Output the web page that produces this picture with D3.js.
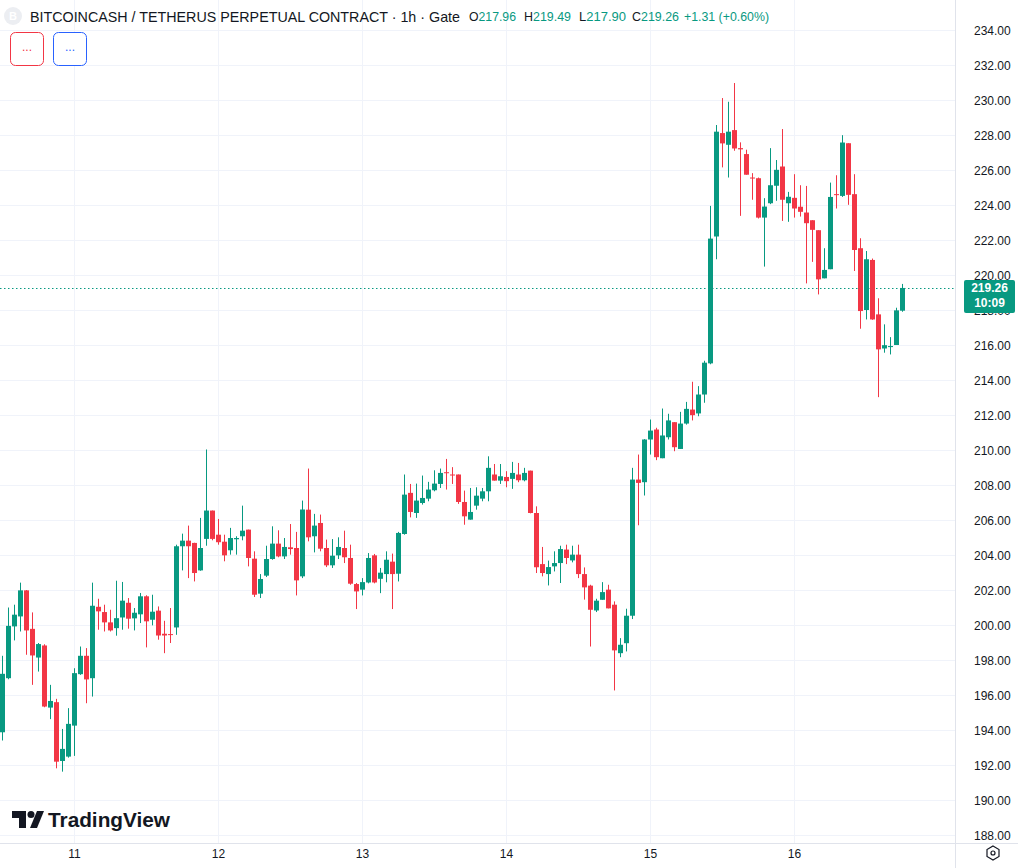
<!DOCTYPE html>
<html><head><meta charset="utf-8">
<script src="https://cdn.jsdelivr.net/npm/d3@7/dist/d3.min.js"></script>
<style>
body{margin:0;background:#fff;}
svg{display:block;font-family:"Liberation Sans",Arial,sans-serif;}
</style>
</head><body>
<svg id="chart" width="1018" height="868"></svg>
<script>
// ---- data (1h candles, first candle = day 10 12:00) ----
const firstCandle = Date.UTC(2024, 4, 10, 12);
const opens = [193.87,196.96,199.92,200.49,201.98,199.78,198.14,198.83,195.28,195.59,192.23,192.48,194.25,197.19,198.24,196.96,201.04,200.74,200.15,199.82,200.43,201.27,200.38,200.61,201.64,200.30,200.82,199.50,199.48,199.86,204.50,204.82,204.69,203.12,204.92,206.54,205.16,204.76,204.27,204.90,205.07,205.45,203.79,201.79,202.82,203.77,204.65,203.92,204.44,204.40,202.78,206.59,205.07,205.83,204.40,203.41,203.98,204.40,203.83,202.34,202.02,202.43,203.98,202.64,202.91,203.62,202.93,205.20,207.55,206.40,206.97,207.22,207.70,208.06,208.73,208.60,208.60,207.03,206.02,206.82,207.22,207.64,208.60,208.25,208.46,208.35,208.60,208.27,208.82,206.40,203.48,202.91,203.35,203.54,204.31,203.69,204.02,202.91,202.25,200.83,201.44,202.02,201.16,198.39,198.96,200.53,208.31,208.16,210.60,211.17,209.53,210.73,211.59,210.06,211.51,212.31,212.09,213.17,214.95,222.20,228.11,227.44,228.28,227.25,226.91,225.57,225.53,223.28,224.10,225.10,226.20,224.10,224.41,223.90,223.57,223.13,222.56,219.81,220.33,224.62,224.52,227.53,224.62,221.53,218.00,220.86,217.75,215.80,215.88,216.00,217.96];
const highs = [198.24,201.00,201.16,202.42,202.00,200.72,198.97,198.90,196.58,195.78,194.06,195.25,197.53,198.77,198.68,202.42,201.50,201.16,200.87,202.53,202.46,201.54,200.97,201.83,201.70,201.73,201.06,200.24,200.97,204.59,205.22,205.68,204.70,206.12,210.03,206.54,206.06,205.16,205.55,205.07,206.82,205.45,204.21,202.91,204.53,205.64,205.41,204.97,205.77,205.32,207.11,208.94,206.35,206.31,204.88,204.91,205.01,205.39,204.59,202.40,202.68,204.11,204.06,203.26,204.21,204.08,205.32,208.60,208.06,208.08,208.54,208.18,208.84,208.94,209.49,209.02,208.60,207.68,207.83,207.87,207.83,209.64,209.20,209.20,208.79,209.32,209.26,208.98,208.82,206.78,204.46,203.68,204.21,204.53,204.59,204.53,204.59,203.29,202.30,201.50,202.45,202.30,201.35,199.25,200.93,208.98,209.74,210.62,211.74,211.27,212.37,212.07,211.59,212.18,212.75,213.90,213.65,215.10,223.95,228.57,230.11,229.90,230.97,227.58,227.16,225.82,225.57,224.39,227.25,226.57,228.34,224.75,225.76,225.13,225.09,223.13,222.56,221.53,225.28,225.70,227.99,227.53,225.76,222.10,221.37,220.94,218.67,217.18,216.45,218.13,219.49];
const lows = [193.40,196.90,199.12,199.63,198.30,196.58,197.34,195.30,194.62,191.81,191.62,192.42,192.52,197.15,195.53,195.91,199.73,199.63,199.63,199.39,199.73,199.79,199.69,200.11,198.72,199.98,199.16,198.39,198.97,199.44,203.12,202.68,202.49,203.10,204.53,204.84,204.59,203.64,204.02,204.02,204.84,203.35,201.60,201.54,202.74,203.73,203.87,203.77,204.02,201.69,202.68,204.78,204.15,204.21,203.31,203.26,203.77,203.54,202.30,200.91,201.69,202.38,202.38,201.82,202.44,200.91,202.49,205.16,206.15,206.12,206.88,207.07,207.64,207.83,207.74,208.06,206.92,205.73,206.02,206.59,207.07,207.07,208.25,208.06,207.87,207.78,208.16,208.21,206.38,202.97,202.78,202.26,203.06,202.40,203.48,203.58,202.68,201.45,198.77,200.74,201.44,200.95,196.26,198.16,198.49,200.34,205.70,207.40,209.74,209.42,209.53,210.60,209.93,210.06,211.45,211.69,211.93,212.70,214.90,220.90,226.15,225.57,227.10,223.38,225.73,224.30,223.23,220.48,224.05,224.24,223.09,223.04,223.28,223.34,219.52,220.75,218.89,219.81,220.33,223.80,224.46,224.01,220.23,216.93,217.46,217.44,213.02,215.56,215.46,216.00,217.90];
const closes = [197.21,199.95,200.59,201.98,199.69,198.26,198.91,195.34,195.66,192.19,192.92,194.35,197.25,198.24,196.89,201.10,200.78,200.15,199.69,200.39,201.39,200.36,200.70,201.64,200.21,200.76,199.40,199.40,199.44,204.50,204.82,204.50,202.97,204.40,206.54,204.92,204.73,203.98,204.97,204.97,205.39,203.83,201.73,202.63,203.77,204.65,203.92,204.46,204.34,202.55,206.60,205.01,205.68,204.36,203.41,203.96,204.46,203.87,202.36,201.92,202.45,203.83,202.43,202.99,203.73,202.91,205.26,207.45,206.46,207.11,207.26,207.74,208.08,208.69,208.69,208.56,207.03,206.21,206.46,207.39,207.64,208.98,208.25,208.50,208.22,208.69,208.27,208.69,206.40,203.30,202.97,203.31,203.54,204.34,203.83,204.02,202.91,202.15,200.87,201.39,201.88,200.95,198.55,198.87,200.53,208.31,208.12,210.60,211.11,209.59,210.83,211.69,210.16,211.51,212.35,211.99,213.17,214.99,222.08,228.19,227.52,228.19,227.23,227.18,225.73,225.53,223.28,223.91,225.13,226.01,224.30,224.47,223.80,223.61,222.96,222.58,219.75,220.29,224.46,224.58,227.57,224.58,221.43,217.94,220.90,217.46,215.75,215.99,215.94,217.98,219.26];
const dayTicks = [11, 12, 13, 14, 15, 16];
const priceTicks = [188,190,192,194,196,198,200,202,204,206,208,210,212,214,216,218,220,222,224,226,228,230,232,234];
const lastPrice = 219.26;
const countdown = "10:09";
const titleText = "BITCOINCASH / TETHERUS PERPETUAL CONTRACT · 1h · Gate";
const ohlcLabels = ["O", "H", "L", "C"];
const ohlcValues = ["217.96", "219.49", "217.90", "219.26"];
const changeText = "+1.31 (+0.60%)";

// ---- layout ----
const W = 1018, H = 868, plotW = 955, plotH = 843;
const GREEN = "#089981", RED = "#f23645", GRID = "#f0f3fa", TEXT = "#131722";
const svg = d3.select("#chart");
const candles = opens.map((o, i) => ({t: new Date(firstCandle + i * 3600e3), o, h: highs[i], l: lows[i], c: closes[i]}));

const x = d3.scaleUtc()
  .domain([new Date(firstCandle), new Date(firstCandle + 150 * 3600e3)])
  .range([2, 902]);
const y = d3.scaleLinear().domain([188, 234]).range([835, 30]);

svg.append("rect").attr("width", W).attr("height", H).attr("fill", "#fff");

svg.append("defs").append("clipPath").attr("id", "plotclip")
  .append("rect").attr("width", plotW).attr("height", plotH);

const plot = svg.append("g").attr("clip-path", "url(#plotclip)");

// grid
plot.append("g").selectAll("line").data(priceTicks).join("line")
  .attr("x1", 0).attr("x2", plotW)
  .attr("y1", d => Math.round(y(d)) + 0.5).attr("y2", d => Math.round(y(d)) + 0.5)
  .attr("stroke", GRID).attr("stroke-width", 1);
const dayDates = dayTicks.map(d => new Date(Date.UTC(2024, 4, d)));
plot.append("g").selectAll("line").data(dayDates).join("line")
  .attr("x1", d => Math.round(x(d)) + 0.5).attr("x2", d => Math.round(x(d)) + 0.5)
  .attr("y1", 0).attr("y2", plotH)
  .attr("stroke", GRID).attr("stroke-width", 1);

// last price dotted line
plot.append("line")
  .attr("x1", 0).attr("x2", plotW)
  .attr("y1", Math.round(y(lastPrice)) + 0.5).attr("y2", Math.round(y(lastPrice)) + 0.5)
  .attr("stroke", GREEN).attr("stroke-width", 1).attr("stroke-dasharray", "1.5,2.5");

// candles
const cg = plot.append("g").selectAll("g").data(candles).join("g")
  .attr("fill", d => d.c >= d.o ? GREEN : RED)
  .attr("stroke", d => d.c >= d.o ? GREEN : RED);
cg.append("line")
  .attr("x1", d => Math.round(x(d.t)) + 0.5).attr("x2", d => Math.round(x(d.t)) + 0.5)
  .attr("y1", d => y(d.h)).attr("y2", d => y(d.l))
  .attr("stroke-width", 1);
cg.append("rect")
  .attr("x", d => Math.round(x(d.t)) - 2)
  .attr("width", 5)
  .attr("y", d => y(Math.max(d.o, d.c)))
  .attr("height", d => Math.max(1, Math.abs(y(d.o) - y(d.c))))
  .attr("stroke", "none");

// axis separators
svg.append("line").attr("x1", plotW + 0.5).attr("x2", plotW + 0.5).attr("y1", 0).attr("y2", H)
  .attr("stroke", "#e0e3eb");
svg.append("line").attr("x1", 0).attr("x2", W).attr("y1", plotH + 0.5).attr("y2", plotH + 0.5)
  .attr("stroke", "#e0e3eb");

// price axis (labels hidden behind the last-price badge are clipped like the reference)
const yAxis = d3.axisRight(y).tickValues(priceTicks).tickFormat(d3.format(".2f")).tickSize(0).tickPadding(0);
const ya = svg.append("g").attr("transform", `translate(974,0)`).call(yAxis);
ya.select(".domain").remove();
ya.selectAll("text").attr("fill", TEXT).attr("font-size", 12).attr("font-family", "Liberation Sans, Arial, sans-serif").attr("dy", "0.35em");

// time axis
const xAxis = d3.axisBottom(x).tickValues(dayDates).tickFormat(d3.utcFormat("%-d")).tickSize(0).tickPadding(0);
const xa = svg.append("g").attr("transform", `translate(0,${plotH})`).call(xAxis);
xa.select(".domain").remove();
xa.selectAll("text").attr("fill", TEXT).attr("font-size", 12).attr("font-family", "Liberation Sans, Arial, sans-serif").attr("y", 15).attr("dy", 0);

// last price label
const lpY = Math.round(y(lastPrice));
svg.append("rect").attr("x", 964).attr("y", lpY - 8).attr("width", 51).attr("height", 33).attr("rx", 2).attr("fill", GREEN);
svg.append("text").attr("x", 989.5).attr("y", lpY + 4).attr("text-anchor", "middle")
  .attr("fill", "#fff").attr("font-size", 12).attr("font-weight", "bold").text(d3.format(".2f")(lastPrice));
svg.append("text").attr("x", 989.5).attr("y", lpY + 19).attr("text-anchor", "middle")
  .attr("fill", "#fff").attr("font-size", 12).attr("font-weight", "bold").text(countdown);

// header
svg.append("circle").attr("cx", 13).attr("cy", 16).attr("r", 9).attr("fill", "#eceef2");
svg.append("text").attr("x", 13).attr("y", 20).attr("text-anchor", "middle").attr("fill", "#fff")
  .attr("font-size", 11).attr("font-weight", "bold").text("B");
svg.append("text").attr("x", 30).attr("y", 22).attr("fill", TEXT).attr("font-size", 14.5)
  .attr("textLength", 430).attr("lengthAdjust", "spacingAndGlyphs").text(titleText);
const ohlcX = [469, 524, 579, 632];
ohlcLabels.forEach((lab, i) => {
  const t = svg.append("text").attr("x", ohlcX[i]).attr("y", 21).attr("font-size", 12.5)
    .attr("textLength", 47).attr("lengthAdjust", "spacingAndGlyphs");
  t.append("tspan").attr("fill", TEXT).text(lab);
  t.append("tspan").attr("fill", GREEN).text(ohlcValues[i]);
});
svg.append("text").attr("x", 684).attr("y", 21).attr("font-size", 12.5).attr("fill", GREEN)
  .attr("textLength", 85).attr("lengthAdjust", "spacingAndGlyphs").text(changeText);

// buttons
[[RED, 10], [ "#2962ff", 53]].forEach(([col, bx]) => {
  svg.append("rect").attr("x", bx + 0.5).attr("y", 32.5).attr("width", 33).attr("height", 33).attr("rx", 5)
    .attr("fill", "#fff").attr("stroke", col).attr("stroke-width", 1);
  svg.append("text").attr("x", bx + 17).attr("y", 51).attr("text-anchor", "middle").attr("fill", col)
    .attr("font-size", 12).text("...");
});

// TradingView logo
const logo = svg.append("g").attr("fill", TEXT);
logo.append("path").attr("d", "M12,811 h14 v17 h-7 v-10 h-7 z");
logo.append("circle").attr("cx", 31).attr("cy", 814.5).attr("r", 3.5);
logo.append("path").attr("d", "M37,811 h7 l-7,17 h-7 z");
logo.append("text").attr("x", 48).attr("y", 827).attr("font-size", 21).attr("font-weight", "bold")
  .attr("textLength", 122).attr("lengthAdjust", "spacingAndGlyphs").text("TradingView");

// settings icon bottom-right
svg.append("path").attr("d", "M993,846 l6,3.5 v7 l-6,3.5 l-6,-3.5 v-7 z").attr("fill", "none").attr("stroke", TEXT).attr("stroke-width", 1.2);
svg.append("circle").attr("cx", 993).attr("cy", 853).attr("r", 2).attr("fill", "none").attr("stroke", TEXT).attr("stroke-width", 1.2);
</script>
</body></html>
